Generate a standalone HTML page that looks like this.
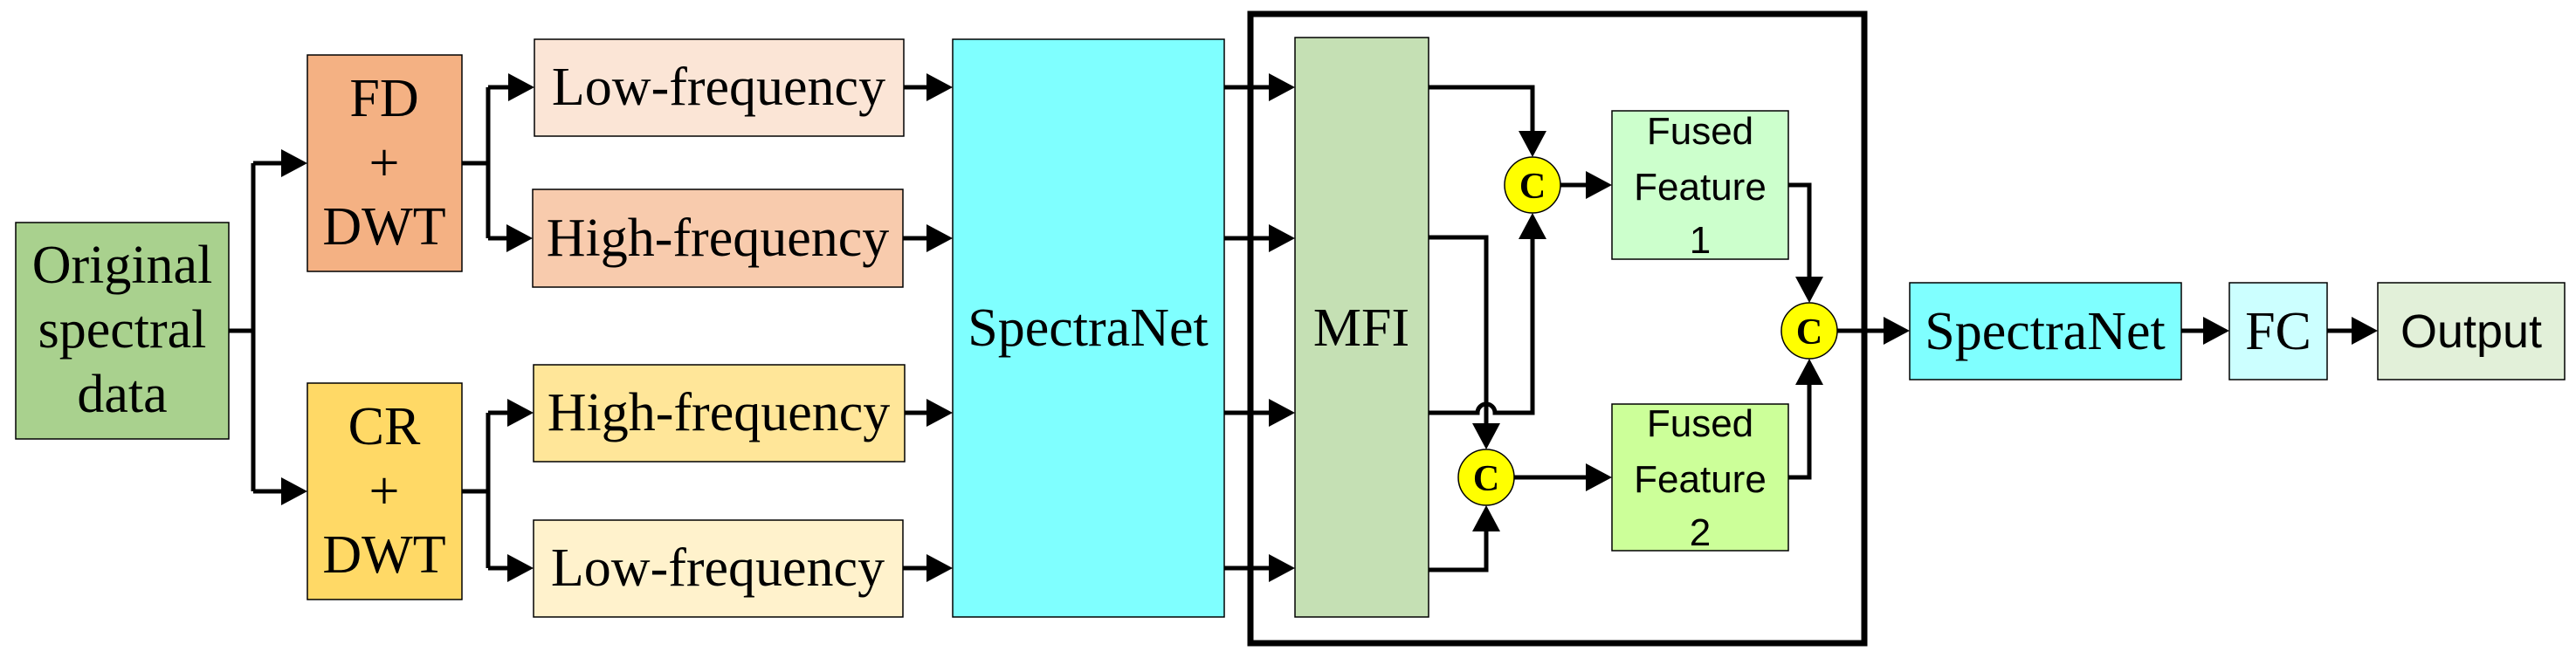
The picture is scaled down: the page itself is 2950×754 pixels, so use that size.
<!DOCTYPE html>
<html><head><meta charset="utf-8"><style>
html,body{margin:0;padding:0;background:#fff;}
svg{display:block;}
.s{font-family:"Liberation Serif",serif;font-size:62px;fill:#000;}
.ss{font-family:"Liberation Sans",sans-serif;font-size:44px;fill:#000;}
.b{stroke:#000;stroke-width:1.5;}
.l{stroke:#000;stroke-width:5;fill:none;}
</style></head><body>
<svg width="2950" height="754" viewBox="0 0 2950 754" xmlns="http://www.w3.org/2000/svg">
<!-- boxes -->
<rect class="b" x="18" y="255" width="244" height="248" fill="#a9d18e"/>
<rect class="b" x="352" y="63" width="177" height="248" fill="#f4b183"/>
<rect class="b" x="352" y="439" width="177" height="248" fill="#ffd966"/>
<rect class="b" x="612" y="45" width="423" height="111" fill="#fbe5d6"/>
<rect class="b" x="610" y="217" width="424" height="112" fill="#f8cbad"/>
<rect class="b" x="611" y="418" width="425" height="111" fill="#ffe699"/>
<rect class="b" x="611" y="596" width="423" height="111" fill="#fff2cc"/>
<rect class="b" x="1091" y="45" width="311" height="662" fill="#7fffff"/>
<rect x="1432" y="16" width="703" height="721" fill="none" stroke="#000" stroke-width="7"/>
<rect class="b" x="1483" y="43" width="153" height="664" fill="#c5e0b4"/>
<rect class="b" x="1846" y="127" width="202" height="170" fill="#ccffcc"/>
<rect class="b" x="1846" y="463" width="202" height="168" fill="#ccff99"/>
<rect class="b" x="2187" y="324" width="311" height="111" fill="#7fffff"/>
<rect class="b" x="2553" y="324" width="112" height="111" fill="#ccffff"/>
<rect class="b" x="2723" y="324" width="214" height="111" fill="#e2f0d9"/>

<!-- text -->
<g class="s" text-anchor="middle">
<text x="140" y="324">Original</text>
<text x="140" y="398">spectral</text>
<text x="140" y="472">data</text>
<text x="440" y="133">FD</text>
<text x="440" y="207">+</text>
<text x="440" y="280">DWT</text>
<text x="440" y="509">CR</text>
<text x="440" y="583">+</text>
<text x="440" y="656">DWT</text>
<text x="823" y="120">Low-frequency</text>
<text x="822" y="293">High-frequency</text>
<text x="823" y="493">High-frequency</text>
<text x="822" y="671">Low-frequency</text>
<text x="1246" y="396">SpectraNet</text>
<text x="1559" y="396">MFI</text>
<text x="2342" y="400">SpectraNet</text>
<text x="2609" y="400">FC</text>
</g>
<g class="ss" text-anchor="middle">
<text x="1947" y="165">Fused</text>
<text x="1947" y="229">Feature</text>
<text x="1947" y="290">1</text>
<text x="1947" y="500">Fused</text>
<text x="1947" y="564">Feature</text>
<text x="1947" y="625">2</text>
<text x="2830" y="398" style="font-size:54px">Output</text>
</g>

<!-- connectors -->
<g class="l">
<path d="M262 379 H290 M290 187 V563 M290 187 H325 M290 563 H325"/>
<path d="M529 187 H559 M559 100 V273 M559 100 H585 M559 273 H583"/>
<path d="M529 563 H559 M559 473 V651 M559 473 H584 M559 651 H584"/>
<path d="M1035 100 H1064 M1034 273 H1064 M1036 473 H1064 M1034 651 H1064"/>
<path d="M1402 100 H1456 M1402 273 H1456 M1402 473 H1456 M1402 651 H1456"/>
<path d="M1636 100 H1755 V155"/>
<path d="M1636 272 H1702 V490"/>
<path d="M1636 473 H1692 A10 10 0 0 1 1712 473 H1755 V270"/>
<path d="M1636 653 H1702 V605"/>
<path d="M1786 212 H1820 M1733 547 H1820"/>
<path d="M2048 212 H2072 V322 M2048 547 H2072 V437"/>
<path d="M2103 379 H2160 M2498 379 H2526 M2665 379 H2696"/>
</g>
<g fill="#000">
<polygon points="322,171 352,187 322,203"/>
<polygon points="322,547 352,563 322,579"/>
<polygon points="582,84 612,100 582,116"/>
<polygon points="580,257 610,273 580,289"/>
<polygon points="581,457 611,473 581,489"/>
<polygon points="581,635 611,651 581,667"/>
<polygon points="1061,84 1091,100 1061,116"/>
<polygon points="1061,257 1091,273 1061,289"/>
<polygon points="1061,457 1091,473 1061,489"/>
<polygon points="1061,635 1091,651 1061,667"/>
<polygon points="1453,84 1483,100 1453,116"/>
<polygon points="1453,257 1483,273 1453,289"/>
<polygon points="1453,457 1483,473 1453,489"/>
<polygon points="1453,635 1483,651 1453,667"/>
<polygon points="1739,150 1755,180 1771,150"/>
<polygon points="1739,274 1755,244 1771,274"/>
<polygon points="1686,485 1702,515 1718,485"/>
<polygon points="1686,609 1702,579 1718,609"/>
<polygon points="1816,196 1846,212 1816,228"/>
<polygon points="1816,531 1846,547 1816,563"/>
<polygon points="2056,317 2072,347 2088,317"/>
<polygon points="2056,441 2072,411 2088,441"/>
<polygon points="2157,363 2187,379 2157,395"/>
<polygon points="2523,363 2553,379 2523,395"/>
<polygon points="2693,363 2723,379 2693,395"/>
</g>
<g fill="#ffff00" stroke="#000" stroke-width="1.5">
<circle cx="1755" cy="212" r="32"/>
<circle cx="1702" cy="547" r="32"/>
<circle cx="2072" cy="379" r="32"/>
</g>
<g font-family="Liberation Serif,serif" font-weight="bold" font-size="42" text-anchor="middle" fill="#000">
<text x="1755" y="227">C</text>
<text x="1702" y="562">C</text>
<text x="2072" y="394">C</text>
</g>
</svg>
</body></html>
